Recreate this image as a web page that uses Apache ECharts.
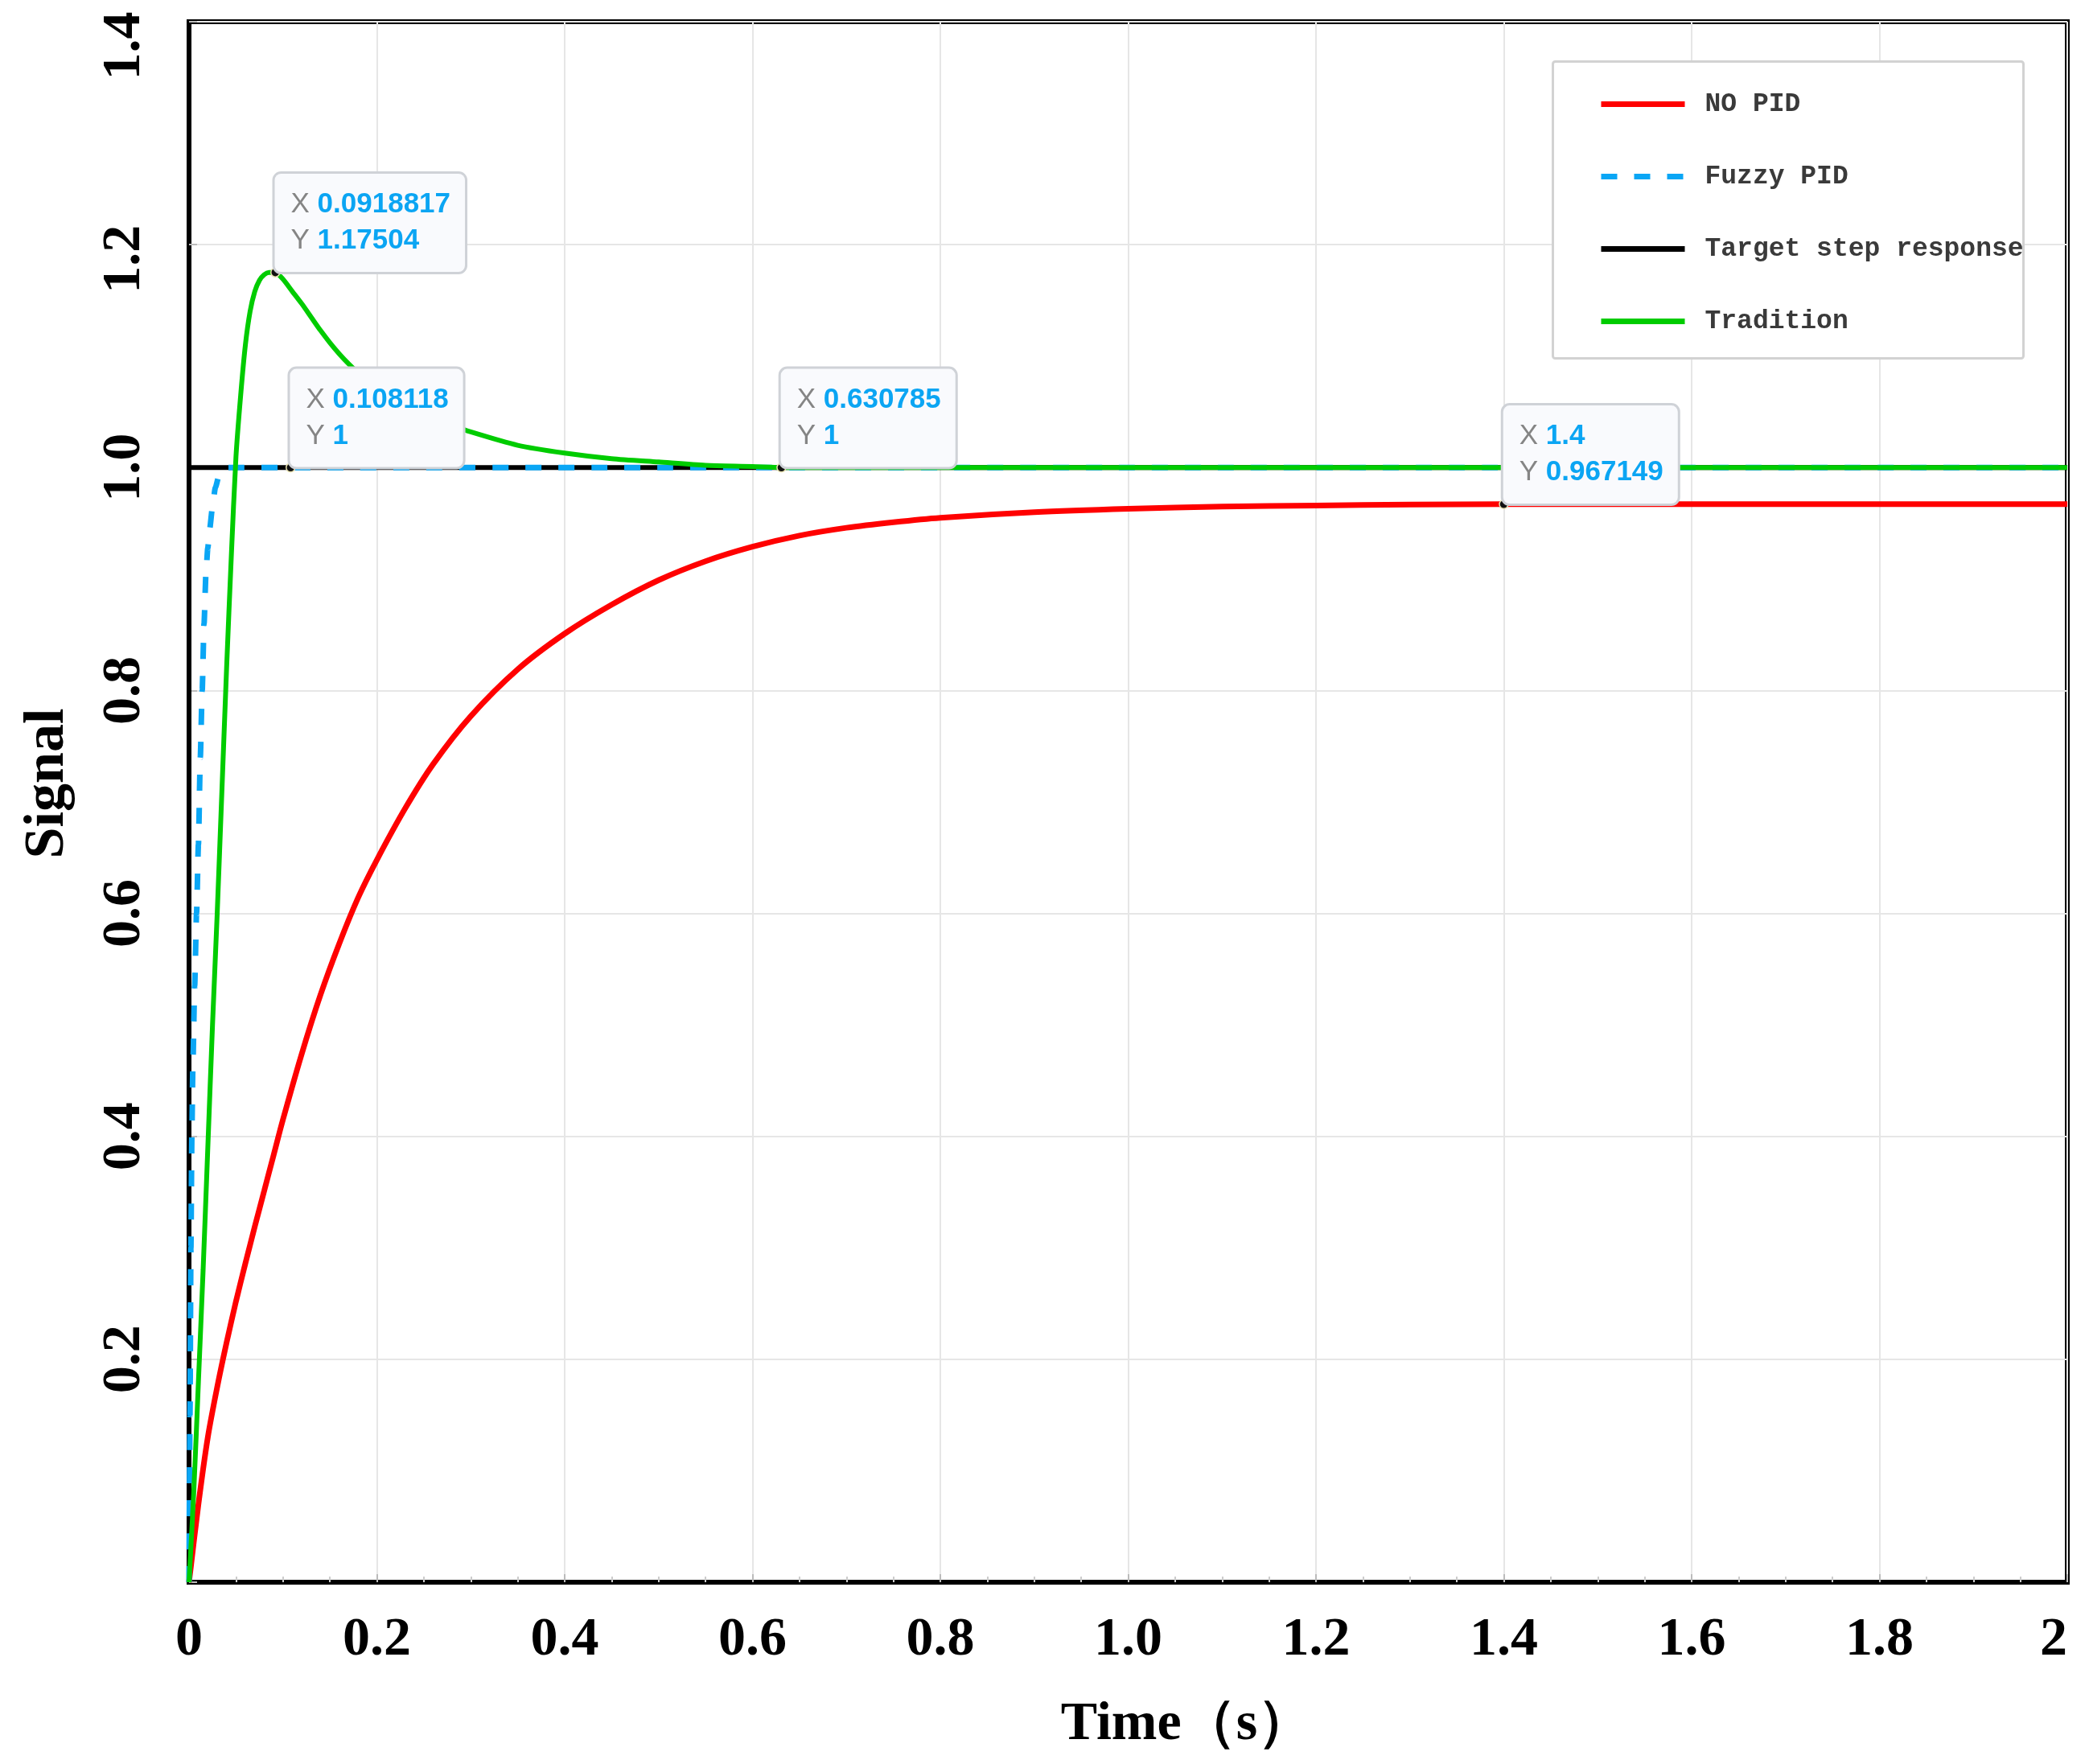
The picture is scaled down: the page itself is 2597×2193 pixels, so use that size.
<!DOCTYPE html>
<html>
<head>
<meta charset="utf-8">
<script src="https://cdn.jsdelivr.net/npm/echarts@6/dist/echarts.min.js"></script>
<style>html,body{margin:0;padding:0;background:#fff;}#c{width:2597px;height:2193px;}</style>
</head>
<body>
<div id="c"></div>
<script>
// ---- data (time in s, signal) ----
const noPid = [[0,0],[0.01,0.07],[0.02,0.13],[0.03,0.175],[0.04,0.215],[0.05,0.252],[0.06,0.286],[0.07,0.319],[0.08,0.351],[0.09,0.383],[0.10,0.415],[0.12,0.474],[0.14,0.527],[0.16,0.573],[0.18,0.614],[0.20,0.648],[0.23,0.694],[0.26,0.734],[0.30,0.777],[0.35,0.819],[0.40,0.851],[0.45,0.877],[0.50,0.899],[0.55,0.916],[0.60,0.929],[0.65,0.939],[0.70,0.946],[0.75,0.951],[0.80,0.955],[0.90,0.960],[1.00,0.963],[1.10,0.965],[1.20,0.966],[1.30,0.9668],[1.40,0.967149],[1.60,0.9672],[1.80,0.9672],[2.00,0.9672]];
const fuzzyPid = [[0,0],[0.001,0.15],[0.002,0.30],[0.003,0.40],[0.004,0.46],[0.006,0.535],[0.008,0.60],[0.010,0.662],[0.012,0.74],[0.014,0.80],[0.016,0.86],[0.018,0.905],[0.020,0.928],[0.022,0.945],[0.025,0.965],[0.028,0.982],[0.032,0.993],[0.036,0.998],[0.040,1.0],[0.05,1.0],[0.108118,1.0],[0.5,1.0],[1.0,1.0],[1.5,1.0],[2.0,1.0]];
const target = [[0,0],[0,1],[2,1]];
const tradition = [[0,0],[0.005,0.08],[0.010,0.18],[0.015,0.28],[0.020,0.39],[0.025,0.50],[0.030,0.60],[0.035,0.71],[0.040,0.82],[0.045,0.92],[0.050,1.01],[0.055,1.065],[0.060,1.110],[0.065,1.140],[0.070,1.158],[0.075,1.168],[0.080,1.173],[0.085,1.175],[0.0918817,1.17504],[0.100,1.169],[0.110,1.158],[0.120,1.147],[0.130,1.135],[0.140,1.123],[0.150,1.112],[0.160,1.102],[0.170,1.093],[0.180,1.085],[0.190,1.078],[0.200,1.072],[0.220,1.061],[0.250,1.048],[0.280,1.038],[0.300,1.032],[0.350,1.020],[0.400,1.013],[0.450,1.008],[0.500,1.005],[0.550,1.002],[0.600,1.001],[0.630785,1.0],[1.0,1.0],[2.0,1.0]];
const tipX = [0.0918817, 0.108118, 0.630785, 1.4];
const tipY = [1.17504, 1, 1, 0.967149];
const tipTextX = ['0.0918817', '0.108118', '0.630785', '1.4'];
const tipTextY = ['1.17504', '1', '1', '0.967149'];
const seriesNames = ['NO PID', 'Fuzzy PID', 'Target step response', 'Tradition'];
const xTicks = ['0','0.2','0.4','0.6','0.8','1.0','1.2','1.4','1.6','1.8','2'];
const yTicks = ['','0.2','0.4','0.6','0.8','1.0','1.2','1.4'];

const serif = '"Liberation Serif", "Times New Roman", serif';
const sans = '"Liberation Sans", Arial, sans-serif';
const chart = echarts.init(document.getElementById('c'));
const tipData = tipX.map((x, i) => ({value: [x, tipY[i]], tx: tipTextX[i], ty: tipTextY[i]}));

chart.setOption({
  backgroundColor: '#fff',
  animation: false,
  grid: {left: 235, right: 27, top: 27, bottom: 226, show: true, borderColor: '#000', borderWidth: 6, backgroundColor: 'transparent'},
  graphic: [{
    type: 'rect', z: 3, left: 1929, top: 75,
    shape: {width: 585, height: 369, r: 3},
    style: {fill: '#fff', stroke: '#d2d2d2', lineWidth: 3}
  }],
  legend: {
    orient: 'vertical', left: 1987, top: 113, padding: 0, z: 5,
    itemWidth: 104, itemHeight: 28, itemGap: 57,
    data: seriesNames,
    itemStyle: {opacity: 0, borderWidth: 0},
    lineStyle: {width: 7},
    textStyle: {fontFamily: '"Liberation Mono", monospace', fontWeight: 'bold', fontSize: 33, color: '#3a3a3a', padding: [0, 0, 0, 20]}
  },
  xAxis: {
    type: 'value', min: 0, max: 2, interval: 0.2,
    axisLine: {show: true, lineStyle: {color: '#000', width: 6}},
    axisTick: {show: true, inside: true, length: 10, lineStyle: {color: '#bbb', width: 2}},
    minorTick: {show: true, splitNumber: 4, length: 7, lineStyle: {color: '#ccc', width: 2}},
    splitLine: {show: true, lineStyle: {color: '#e6e6e6', width: 2}},
    axisLabel: {
      margin: 38, fontFamily: serif, fontWeight: 'bold', fontSize: 68, color: '#000',
      alignMaxLabel: 'right',
      formatter: (v) => xTicks[Math.round(v / 0.2)]
    },
    name: 'Time（s）', nameLocation: 'middle', nameGap: 143,
    nameTextStyle: {fontFamily: serif, fontWeight: 'bold', fontSize: 68, color: '#000', padding: [0, 0, 0, 145]}
  },
  yAxis: {
    type: 'value', min: 0, max: 1.4, interval: 0.2,
    axisLine: {show: true, lineStyle: {color: '#000', width: 6}},
    axisTick: {show: true, inside: true, length: 10, lineStyle: {color: '#bbb', width: 2}},
    minorTick: {show: false},
    splitLine: {show: true, lineStyle: {color: '#e6e6e6', width: 2}},
    axisLabel: {
      margin: 46, rotate: 90, fontFamily: serif, fontWeight: 'bold', fontSize: 68, color: '#000',
      formatter: (v) => {
        const i = Math.round(v / 0.2);
        if (i === 7) return '{a|' + yTicks[i] + '}';
        if (i === 6) return '{b|' + yTicks[i] + '}';
        return yTicks[i];
      },
      rich: {
        a: {fontFamily: serif, fontWeight: 'bold', fontSize: 68, color: '#000', padding: [0, 60, 0, 0]},
        b: {fontFamily: serif, fontWeight: 'bold', fontSize: 68, color: '#000', padding: [0, 36, 0, 0]}
      }
    },
    name: 'Signal', nameLocation: 'middle', nameGap: 140, nameRotate: 90,
    nameTextStyle: {fontFamily: serif, fontWeight: 'bold', fontSize: 70, color: '#000', padding: [0, 0, 0, 46]}
  },
  series: [
    {name: 'NO PID', type: 'line', data: noPid, symbol: 'none', smooth: 0.3, z: 2,
     lineStyle: {color: '#ff0000', width: 7}, itemStyle: {color: '#ff0000'}},
    {name: 'Target step response', type: 'line', data: target, symbol: 'none', z: 3,
     lineStyle: {color: '#000', width: 6}, itemStyle: {color: '#000'}},
    {name: 'Fuzzy PID', type: 'line', data: fuzzyPid, symbol: 'none', smooth: 0.2, smoothMonotone: 'x', z: 4,
     lineStyle: {color: '#0aa6f5', width: 7, type: [20, 21]}, itemStyle: {color: '#0aa6f5'}},
    {name: 'Tradition', type: 'line', data: tradition, symbol: 'none', smooth: 0.25, z: 5,
     lineStyle: {color: '#00cc00', width: 6}, itemStyle: {color: '#00cc00'}},
    {name: 'tips', type: 'scatter', data: tipData, z: 10, symbol: 'circle', symbolSize: 11,
     itemStyle: {color: '#111', borderColor: '#e8e2b0', borderWidth: 1.5, opacity: 1},
     label: {
       show: true, position: [5.5, 5.5], align: 'left', verticalAlign: 'bottom',
       backgroundColor: '#f9fafd', borderColor: '#cfd2d7', borderWidth: 3, borderRadius: 8,
       padding: [16, 18, 16, 20], lineHeight: 45, opacity: 1,
       formatter: (p) => '{k|X }{v|' + p.data.tx + '}\n{k|Y }{v|' + p.data.ty + '}',
       rich: {
         k: {fontFamily: sans, fontSize: 35, color: '#858585', lineHeight: 45},
         v: {fontFamily: sans, fontSize: 35, fontWeight: 'bold', color: '#0ba5f3', lineHeight: 45}
       }
     }}
  ]
});
</script>
</body>
</html>
